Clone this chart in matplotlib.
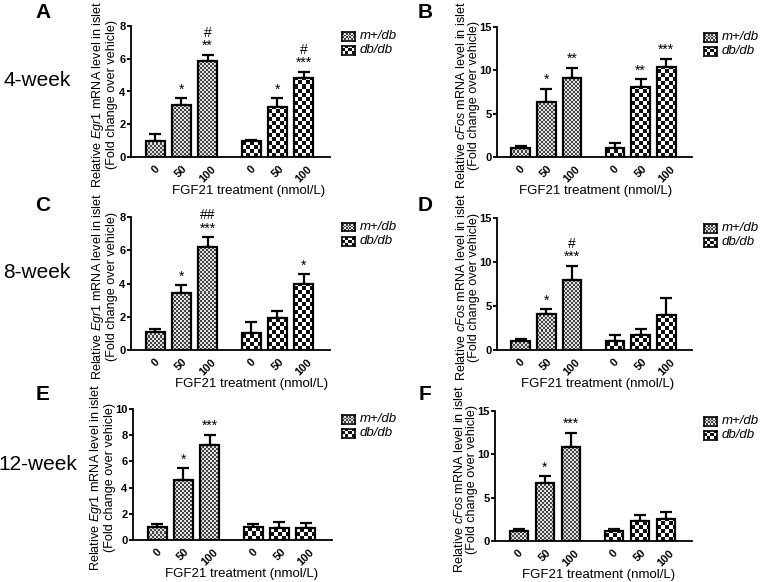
import matplotlib
matplotlib.use("Agg")
import matplotlib.pyplot as plt
import numpy as np

plt.rcParams['font.family'] = ['Liberation Sans', 'DejaVu Sans']
plt.rcParams['mathtext.fontset'] = 'custom'
plt.rcParams['mathtext.it'] = 'Liberation Sans:italic'
plt.rcParams['mathtext.rm'] = 'Liberation Sans'

doses = ["0", "50", "100"]
groups = ["m+/db", "db/db"]
xlabel = "FGF21 treatment (nmol/L)"
row_labels = ["4-week", "8-week", "12-week"]
panel_letters = ["A", "B", "C", "D", "E", "F"]
genes = ["Egr1", "cFos", "Egr1", "cFos", "Egr1", "cFos"]
ymaxes = [8, 15, 8, 15, 10, 15]
yticks_list = [[0, 2, 4, 6, 8], [0, 5, 10, 15], [0, 2, 4, 6, 8],
               [0, 5, 10, 15], [0, 2, 4, 6, 8, 10], [0, 5, 10, 15]]

# means and SEM: m+/db then db/db
A_m = [1.0, 3.15, 5.85]; A_m_err = [0.4, 0.45, 0.4]
A_d = [1.0, 3.05, 4.85]; A_d_err = [0.03, 0.55, 0.35]
B_m = [1.05, 6.4, 9.1]; B_m_err = [0.2, 1.5, 1.2]
B_d = [1.05, 8.05, 10.35]; B_d_err = [0.6, 0.95, 1.0]
C_m = [1.1, 3.4, 6.2]; C_m_err = [0.15, 0.5, 0.6]
C_d = [1.0, 1.9, 4.0]; C_d_err = [0.7, 0.45, 0.55]
D_m = [1.0, 4.1, 7.9]; D_m_err = [0.2, 0.55, 1.7]
D_d = [1.05, 1.7, 3.95]; D_d_err = [0.65, 0.7, 2.0]
E_m = [1.0, 4.55, 7.25]; E_m_err = [0.25, 0.95, 0.8]
E_d = [1.0, 0.9, 0.9]; E_d_err = [0.2, 0.5, 0.4]
F_m = [1.15, 6.7, 10.8]; F_m_err = [0.2, 0.75, 1.7]
F_d = [1.1, 2.3, 2.5]; F_d_err = [0.25, 0.65, 0.8]

A_ann = ["", "*", "#\n**", "", "*", "#\n***"]
B_ann = ["", "*", "**", "", "**", "***"]
C_ann = ["", "*", "##\n***", "", "", "*"]
D_ann = ["", "*", "#\n***", "", "", ""]
E_ann = ["", "*", "***", "", "", ""]
F_ann = ["", "*", "***", "", "", ""]

panels = [
    (A_m, A_m_err, A_d, A_d_err, A_ann),
    (B_m, B_m_err, B_d, B_d_err, B_ann),
    (C_m, C_m_err, C_d, C_d_err, C_ann),
    (D_m, D_m_err, D_d, D_d_err, D_ann),
    (E_m, E_m_err, E_d, E_d_err, E_ann),
    (F_m, F_m_err, F_d, F_d_err, F_ann),
]

W, H = 760, 582
fig = plt.figure(figsize=(7.6, 5.82), dpi=100)

# axes boxes in pixels: left, right, top, bottom
boxes = [
    (131, 330, 26, 157),
    (497, 692, 27, 157),
    (131, 330, 217, 350),
    (497, 692, 218, 350),
    (133, 332, 409, 540),
    (495, 692, 411, 541),
]
ylabel_right = [-13, -17, -13, -17, -17, -17]   # px offset of ylabel right edge from spine
xlabel_center = [249, 596, 252, 598, 242, 599]
letter_pos = [(43, 13), (425, 13), (43, 205), (425, 205), (43, 395), (425, 395)]
row_pos = [(37, 80), (37, 272), (38, 465)]
legend_x = [342, 704]

pos = np.array([0, 1, 2, 3.66, 4.66, 5.66])
textures = [(2, '#444444', '#e2e2e2'), (4, '#111111', '#ffffff')]


def checker(nx, ny, c1, c2):
    ii, jj = np.meshgrid(np.arange(nx), np.arange(ny))
    mask = ((ii + jj) % 2).astype(bool)
    rgb1 = np.array(matplotlib.colors.to_rgb(c1))
    rgb2 = np.array(matplotlib.colors.to_rgb(c2))
    img = np.where(mask[..., None], rgb1, rgb2)
    return img


def fill_bar(ax, bar, tex):
    cell, c1, c2 = tex
    x0, y0 = bar.get_x(), bar.get_y()
    w, h = bar.get_width(), bar.get_height()
    (px0, py0), (px1, py1) = ax.transData.transform([(x0, y0), (x0 + w, y0 + h)])
    nx = int(np.ceil((px1 - px0) / cell)) + 1
    ny = int(np.ceil((py1 - py0) / cell)) + 1
    sx = w / (px1 - px0)
    sy = h / (py1 - py0) if py1 != py0 else 0
    img = checker(nx, ny, c1, c2)
    im = ax.imshow(img, extent=(x0, x0 + nx * cell * sx, y0, y0 + ny * cell * sy),
                   origin='lower', aspect='auto', interpolation='nearest', zorder=2)
    im.set_clip_path(bar)


for i, (m, me, d, de, ann) in enumerate(panels):
    l, r, t, b = boxes[i]
    ax = fig.add_axes([l / W, 1 - b / H, (r - l) / W, (b - t) / H])
    ymax = ymaxes[i]
    xlim = (-0.92, 6.66)
    ax.set_xlim(*xlim)
    ax.set_ylim(0, ymax)
    vals = list(m) + list(d)
    errs = list(me) + list(de)
    bars = ax.bar(pos, vals, width=0.72, facecolor='none', edgecolor='black',
                  linewidth=1.6, zorder=3)
    for j, bar in enumerate(bars):
        fill_bar(ax, bar, textures[0] if j < 3 else textures[1])
    ax.errorbar(pos, vals, yerr=[np.zeros(6), errs], fmt='none', ecolor='black',
                elinewidth=1.6, capsize=4, capthick=1.6, zorder=1)
    for j in range(6):
        if ann[j]:
            ax.text(pos[j], vals[j] + errs[j] + ymax * 0.012, ann[j], ha='center',
                    va='bottom', fontsize=10, linespacing=0.9)
    ax.set_xlim(*xlim)
    ax.set_ylim(0, ymax)
    ax.set_yticks(yticks_list[i])
    ax.tick_params(axis='y', labelsize=8, width=1.3, length=3, pad=1)
    for lab in ax.get_yticklabels():
        lab.set_fontweight('bold')
    ax.set_xticks(pos)
    ax.set_xticklabels(doses + doses, rotation=45, fontsize=8, fontweight='bold')
    ax.tick_params(axis='x', length=0, pad=5)
    for s in ['top', 'right']:
        ax.spines[s].set_visible(False)
    ax.spines['left'].set_linewidth(1.3)
    ax.spines['bottom'].set_linewidth(1.3)
    ax.set_xlabel(xlabel, fontsize=9.5)
    ax.xaxis.set_label_coords((xlabel_center[i] - l) / (r - l), -34 / (b - t))
    ax.xaxis.label.set_va('center')
    ax.set_ylabel("Relative $\\it{" + genes[i] + "}$ mRNA level in islet\n(Fold change over vehicle)",
                  fontsize=9.1, linespacing=1.0)
    ax.yaxis.set_label_coords(ylabel_right[i] / (r - l), 0.5 - 3.0 / (b - t))
    # legend
    lx = legend_x[i % 2]
    for k, g in enumerate(groups):
        y = t + 10 + k * 14
        lax = fig.add_axes([lx / W, 1 - (y + 4.5) / H, 13 / W, 9 / H])
        cell, c1, c2 = textures[k]
        lax.imshow(checker(int(13 / cell) + 1, int(9 / cell) + 1, c1, c2),
                   extent=(0, 13, 0, 9), origin='lower', aspect='auto',
                   interpolation='nearest')
        lax.set_xlim(0, 13)
        lax.set_ylim(0, 9)
        lax.set_xticks([])
        lax.set_yticks([])
        for s in lax.spines.values():
            s.set_linewidth(1.2)
        fig.text((lx + 18) / W, 1 - y / H, g, fontsize=9.5, style='italic', va='center')
    fx, fy = letter_pos[i]
    fig.text(fx / W, 1 - fy / H, panel_letters[i], fontsize=15, fontweight='bold',
             ha='center', va='center')

for k, (rx, ry) in enumerate(row_pos):
    fig.text(rx / W, 1 - ry / H, row_labels[k], fontsize=15, ha='center', va='center')

fig.savefig("out.png", dpi=100)
